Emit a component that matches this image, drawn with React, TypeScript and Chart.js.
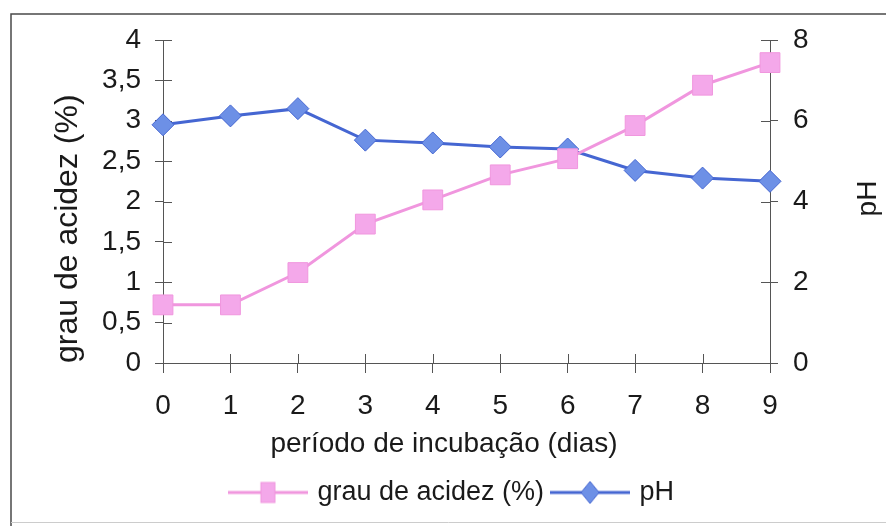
import React, { useEffect, useRef } from 'react';
import { Chart, registerables } from 'chart.js';

Chart.register(...registerables);

// ---- data ----
const DAYS = ['0', '1', '2', '3', '4', '5', '6', '7', '8', '9'];
const ACIDEZ = [0.72, 0.72, 1.12, 1.72, 2.02, 2.33, 2.53, 2.94, 3.44, 3.72];
const PH = [5.9, 6.12, 6.3, 5.52, 5.45, 5.35, 5.3, 4.77, 4.58, 4.5];

const SERIES_NAMES = ['grau de acidez (%)', 'pH'];
const X_TITLE = 'período de incubação (dias)';
const Y_LEFT_TITLE = 'grau de acidez (%)';
const Y_RIGHT_TITLE = 'pH';

const LEFT_MIN = 0;
const LEFT_MAX = 4;
const LEFT_STEP = 0.5;
const RIGHT_MIN = 0;
const RIGHT_MAX = 8;
const RIGHT_STEP = 2;

// ---- styles ----
const FONT = "'Liberation Sans', Arial, Helvetica, sans-serif";
const TEXT = '#1a1a1a';
const AXIS = '#555555';
const PINK_LINE = '#f096de';
const PINK_FILL = '#f4a8ea';
const BLUE_LINE = '#4566d2';
const BLUE_FILL = '#6d90e6';

function legendImage(kind: 'rect' | 'diamond', line: string, fill: string, border: string) {
  const c = document.createElement('canvas');
  c.width = 80;
  c.height = 26;
  const g = c.getContext('2d')!;
  g.strokeStyle = line;
  g.lineWidth = 3;
  g.beginPath();
  g.moveTo(0, 13);
  g.lineTo(80, 13);
  g.stroke();
  g.fillStyle = fill;
  g.strokeStyle = border;
  g.lineWidth = 1;
  if (kind === 'rect') {
    g.fillRect(33, 3, 14, 20);
    g.strokeRect(33, 3, 14, 20);
  } else {
    g.beginPath();
    g.moveTo(31, 13);
    g.lineTo(40, 2);
    g.lineTo(49, 13);
    g.lineTo(40, 24);
    g.closePath();
    g.fill();
    g.stroke();
  }
  return c;
}

const decor = {
  id: 'decor',
  beforeDraw(chart: any) {
    const ctx = chart.ctx;
    ctx.save();
    ctx.fillStyle = '#ffffff';
    ctx.fillRect(0, 0, chart.width, chart.height);
    ctx.restore();
  },
  beforeDatasetsDraw(chart: any) {
    const ctx = chart.ctx;
    const { left, right, bottom } = chart.chartArea;
    const sx = chart.scales.x;
    const sy = chart.scales.y;
    const sy1 = chart.scales.y1;
    ctx.save();
    ctx.strokeStyle = AXIS;
    ctx.lineWidth = 1;
    ctx.beginPath();
    sy.ticks.forEach((_t: any, i: number) => {
      const p = Math.round(sy.getPixelForTick(i)) + 0.5;
      ctx.moveTo(left, p);
      ctx.lineTo(left + 9, p);
    });
    sy1.ticks.forEach((_t: any, i: number) => {
      const p = Math.round(sy1.getPixelForTick(i)) + 0.5;
      ctx.moveTo(right - 9, p);
      ctx.lineTo(right, p);
    });
    sx.ticks.forEach((_t: any, i: number) => {
      const p = Math.round(sx.getPixelForTick(i)) + 0.5;
      ctx.moveTo(p, bottom - 9);
      ctx.lineTo(p, bottom);
    });
    ctx.stroke();
    ctx.restore();
  },
  afterDraw(chart: any) {
    const ctx = chart.ctx;
    const { top, bottom } = chart.chartArea;
    ctx.save();
    // outer frame
    ctx.strokeStyle = '#4a4a4a';
    ctx.lineWidth = 1.5;
    ctx.beginPath();
    ctx.moveTo(886, 14);
    ctx.lineTo(11, 14);
    ctx.lineTo(11, 526);
    ctx.stroke();
    ctx.strokeStyle = '#cccccc';
    ctx.lineWidth = 1;
    ctx.beginPath();
    ctx.moveTo(11, 522.5);
    ctx.lineTo(886, 522.5);
    ctx.stroke();
    // x axis title (slightly left of the plot centre, as in the original)
    ctx.fillStyle = TEXT;
    ctx.font = `28px ${FONT}`;
    ctx.textAlign = 'center';
    ctx.textBaseline = 'middle';
    ctx.fillText(X_TITLE, 444, 444);
    // right axis title (rotated like the left one)
    ctx.translate(868, (top + bottom) / 2 - 3);
    ctx.rotate(-Math.PI / 2);
    ctx.fillText(Y_RIGHT_TITLE, 0, 0);
    ctx.restore();
  },
};

export default function App() {
  const ref = useRef<HTMLCanvasElement | null>(null);

  useEffect(() => {
    if (!ref.current) return;
    const imgs = [
      legendImage('rect', PINK_LINE, PINK_FILL, PINK_LINE),
      legendImage('diamond', BLUE_LINE, BLUE_FILL, BLUE_LINE),
    ];
    const comma = (v: any) => String(v).replace('.', ',');
    const chart = new Chart(ref.current, {
      type: 'line',
      data: {
        labels: DAYS,
        datasets: [
          {
            label: SERIES_NAMES[0],
            data: ACIDEZ,
            yAxisID: 'y',
            borderColor: PINK_LINE,
            backgroundColor: PINK_FILL,
            borderWidth: 3,
            pointStyle: 'rect',
            pointRadius: 14,
            pointBorderWidth: 1,
            pointBorderColor: PINK_LINE,
            pointBackgroundColor: PINK_FILL,
            tension: 0,
          },
          {
            label: SERIES_NAMES[1],
            data: PH,
            yAxisID: 'y1',
            borderColor: BLUE_LINE,
            backgroundColor: BLUE_FILL,
            borderWidth: 3,
            pointStyle: 'rectRot',
            pointRadius: 11,
            pointBorderWidth: 1,
            pointBorderColor: BLUE_LINE,
            pointBackgroundColor: BLUE_FILL,
            tension: 0,
          },
        ],
      },
      options: {
        responsive: true,
        maintainAspectRatio: false,
        animation: false,
        layout: { padding: { left: 20, right: 0, top: 40, bottom: 10 } },
        plugins: {
          legend: {
            position: 'bottom',
            labels: {
              usePointStyle: true,
              pointStyleWidth: 72,
              padding: 10,
              color: TEXT,
              font: { family: FONT, size: 27 },
              generateLabels: () =>
                SERIES_NAMES.map((name, i) => ({
                  text: name,
                  pointStyle: imgs[i] as any,
                  fillStyle: 'transparent',
                  strokeStyle: 'transparent',
                  lineWidth: 0,
                  hidden: false,
                  datasetIndex: i,
                  fontColor: TEXT,
                })),
            },
          },
          tooltip: { enabled: false },
        },
        scales: {
          x: {
            type: 'category',
            offset: false,
            grid: { drawOnChartArea: false, drawTicks: true, tickLength: 10, color: AXIS },
            border: { display: true, color: AXIS, width: 1 },
            ticks: { color: TEXT, font: { family: FONT, size: 28 }, padding: 16, maxRotation: 0, autoSkip: false },
            title: { display: false, text: X_TITLE },
            afterFit: (s: any) => {
              s.height = 106;
            },
          },
          y: {
            type: 'linear',
            position: 'left',
            min: LEFT_MIN,
            max: LEFT_MAX,
            grid: { drawOnChartArea: false, drawTicks: true, tickLength: 8, color: AXIS },
            border: { display: true, color: AXIS, width: 1 },
            ticks: { stepSize: LEFT_STEP, callback: comma, color: TEXT, font: { family: FONT, size: 28 }, padding: 14 },
            title: {
              display: true,
              text: Y_LEFT_TITLE,
              color: TEXT,
              align: 'start',
              font: { family: FONT, size: 32 },
              padding: { top: 29, bottom: 0 },
            },
            afterFit: (s: any) => {
              s.width = 143;
            },
          },
          y1: {
            type: 'linear',
            position: 'right',
            min: RIGHT_MIN,
            max: RIGHT_MAX,
            grid: { drawOnChartArea: false, drawTicks: true, tickLength: 8, color: AXIS },
            border: { display: true, color: AXIS, width: 1 },
            ticks: { stepSize: RIGHT_STEP, color: TEXT, font: { family: FONT, size: 28 }, padding: 15 },
            afterFit: (s: any) => {
              s.width = 116;
            },
          },
        },
      },
      plugins: [decor],
    });
    return () => chart.destroy();
  }, []);

  return (
    <div style={{ position: 'fixed', left: 0, top: 0, width: 886, height: 526, background: '#fff' }}>
      <canvas ref={ref} />
    </div>
  );
}
